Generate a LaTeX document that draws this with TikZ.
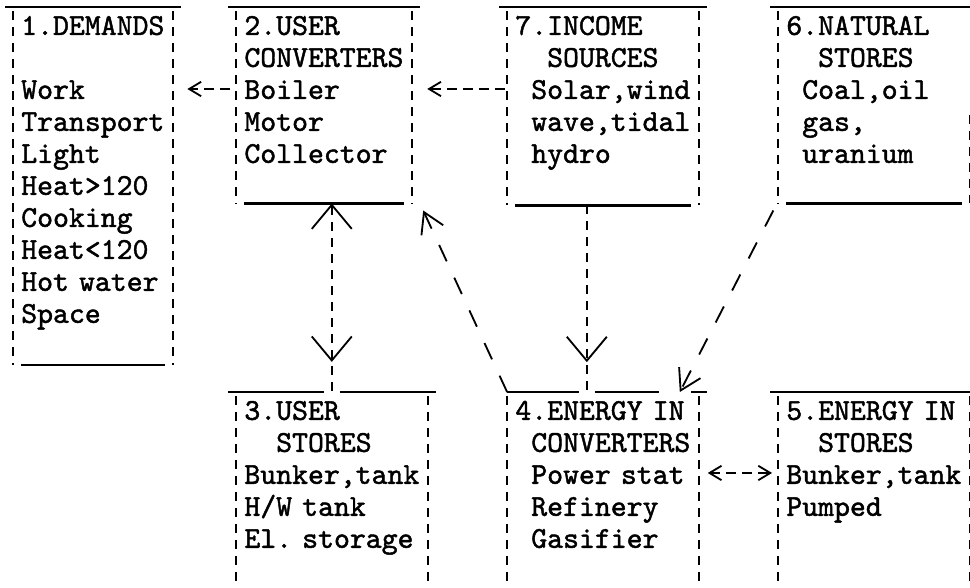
\documentclass[tikz,border=0pt]{standalone}
\usepackage{fontspec}
\setmonofont{lmmono10-regular.otf}[FakeBold=1.5]
\usetikzlibrary{arrows.meta,decorations.markings}
\newcommand{\rowstrut}{\rule[-0.16cm]{0pt}{0.8cm}}
\begin{document}
\begin{tikzpicture}[x=0.3985cm, y=-0.8cm, shift={(0.325cm,-0.625cm)},
        box/.style={anchor=north west, inner xsep=0.19925cm, inner ysep=0.048cm, align=left,
            font=\fontsize{21.55}{22.76}\selectfont\ttfamily,
            execute at begin node=\rowstrut, execute at end node=\rowstrut},
        topline/.style={line width=1.8pt},
        side/.style={line width=1.3pt, dash pattern=on 0.22cm off 0.18cm, dash phase=0.3cm},
        hflow/.style={line width=1.3pt, dash pattern=on 0.25cm off 0.15cm},
        vflow/.style={line width=1.3pt, dash pattern=on 0.22cm off 0.18cm},
        dflow/.style={line width=1.3pt, dash pattern=on 0.45cm off 0.45cm},
        hhead/.tip={Straight Barb[length=0.3cm, width=0.36cm]},
        vhead/.tip={Straight Barb[length=0.6cm, width=1cm]},
        dhead/.tip={Straight Barb[length=0.5cm, width=0.6cm]}]
            \useasboundingbox (-0.8156,-0.78125) rectangle (60.04,17.59);
            \clip (-0.8156,-0.78125) rectangle (60.04,17.59);

            \node at (0,-0.56) [box, text width=3.5865cm] (demands) {1.DEMANDS\\ ~\\ Work\\ Transport\\ Light\\ Heat>120\\ Cooking\\ Heat<120\\ Hot~water\\ Space\\ ~};
            \node at (14,-0.56) [box, text width=3.985cm] (userconv) {2.USER\\ CONVERTERS\\ Boiler\\ Motor\\ Collector\\ ~};
            \node at (31,-0.56) [box, text width=4.3835cm] (income) {7.INCOME\\ \hphantom{XX}SOURCES\\ \hphantom{X}Solar,wind\\ \hphantom{X}wave,tidal\\ \hphantom{X}hydro\\ ~};
            \node at (48,-0.56) [box, text width=4.3835cm] (natural) {6.NATURAL\\ \hphantom{XX}STORES\\ \hphantom{X}Coal,oil\\ \hphantom{X}gas,\\ \hphantom{X}uranium\\ ~};
            \node at (14,11.47) [box, text width=4.3835cm] (userstores) {3.USER\\ \hphantom{XX}STORES\\ Bunker,tank\\ H/W~tank\\ El.~storage\\ ~};
            \node at (31,11.47) [box, text width=4.3835cm] (energyconv) {4.ENERGY~IN\\ \hphantom{X}CONVERTERS\\ \hphantom{X}Power~stat\\ \hphantom{X}Refinery\\ \hphantom{X}Gasifier\\ ~};
            \node at (48,11.47) [box, text width=4.3835cm] (energystores) {5.ENERGY~IN\\ \hphantom{XX}STORES\\ Bunker,tank\\ Pumped\\ ~\\ ~};

            % box frames
            \draw[topline] ([shift={(-0.5,0)}]demands.north west) -- ([shift={(0.5,0)}]demands.north east);
            \draw[topline] ([shift={(0.5,0)}]demands.south west) -- ([shift={(-0.5,0)}]demands.south east);
            \draw[side] (demands.north west) -- (demands.south west);
            \draw[side] (demands.north east) -- (demands.south east);

            \draw[topline] ([shift={(-0.5,0)}]userconv.north west) -- ([shift={(0.5,0)}]userconv.north east);
            \draw[topline] ([shift={(0.5,0)}]userconv.south west) -- ([shift={(-0.5,0)}]userconv.south east);
            \draw[side] (userconv.north west) -- (userconv.south west);
            \draw[side] (userconv.north east) -- (userconv.south east);

            \draw[topline] ([shift={(-0.5,0)}]income.north west) -- ([shift={(0.5,0)}]income.north east);
            \draw[topline] ([shift={(0.5,0)}]income.south west) -- ([shift={(-0.5,0)}]income.south east);
            \draw[side] (income.north west) -- (income.south west);
            \draw[side] (income.north east) -- (income.south east);

            \draw[topline] ([shift={(-0.5,0)}]natural.north west) -- ([shift={(0.5,0)}]natural.north east);
            \draw[topline] ([shift={(0.5,0)}]natural.south west) -- ([shift={(-0.5,0)}]natural.south east);
            \draw[side] (natural.north west) -- (natural.south west);
            \draw[side] (natural.north east |- 0,2.7) -- (natural.south east);

            \draw[topline] ([shift={(-0.5,0)}]userstores.north west) -- ([shift={(5.5,0)}]userstores.north west);
            \draw[topline] ([shift={(6.5,0)}]userstores.north west) -- ([shift={(0.5,0)}]userstores.north east);
            \draw[side] (userstores.north west) -- (userstores.south west);
            \draw[side] (userstores.north east) -- (userstores.south east);

            \draw[topline] (energyconv.north west) -- ([shift={(4.5,0)}]energyconv.north west);
            \draw[topline] ([shift={(5.5,0)}]energyconv.north west) -- ([shift={(9.5,0)}]energyconv.north west);
            \draw[topline] ([shift={(-0.5,0)}]energyconv.north east) -- ([shift={(0.5,0)}]energyconv.north east);
            \draw[side] (energyconv.north west) -- (energyconv.south west);
            \draw[side] (energyconv.north east) -- (energyconv.south east);

            \draw[topline] ([shift={(-0.5,0)}]energystores.north west) -- ([shift={(0.5,0)}]energystores.north east);
            \draw[side] (energystores.north west) -- (energystores.south west);
            \draw[side] (energystores.north east) -- (energystores.south east);

            % flows
            \draw[hflow, -{hhead}, shorten <=0.15cm, shorten >=0.36cm] (userconv.west |- 0,2) -- (demands.east |- 0,2);
            \draw[hflow, -{hhead}, shorten <=0.05cm, shorten >=0.38cm] (income.west |- 0,2) -- (userconv.east |- 0,2);
            \draw[hflow, {hhead}-{hhead}, shorten <=0.22cm, shorten >=0.15cm] (energyconv.east |- 0,14) -- (energystores.west |- 0,14);

            \draw[vflow, {vhead}-, postaction={decorate}, decoration={markings, mark=at position 0.84 with {\arrow{vhead}}}] (userconv.south -| 20,0) -- (userstores.north -| 20,0);
            \draw[vflow, postaction={decorate}, decoration={markings, mark=at position 0.84 with {\arrow{vhead}}}] (income.south -| 36,0) -- (energyconv.north -| 36,0);

            \draw[dflow, -{dhead}] (energyconv.north west) -- ([shift={(0.7,0.22)}]userconv.south east);
            \draw[dflow, -{dhead}] ([shift={(-0.3,0.22)}]natural.south west) -- ([shift={(-1.2,0)}]energyconv.north east);
        \end{tikzpicture}
\end{document}
